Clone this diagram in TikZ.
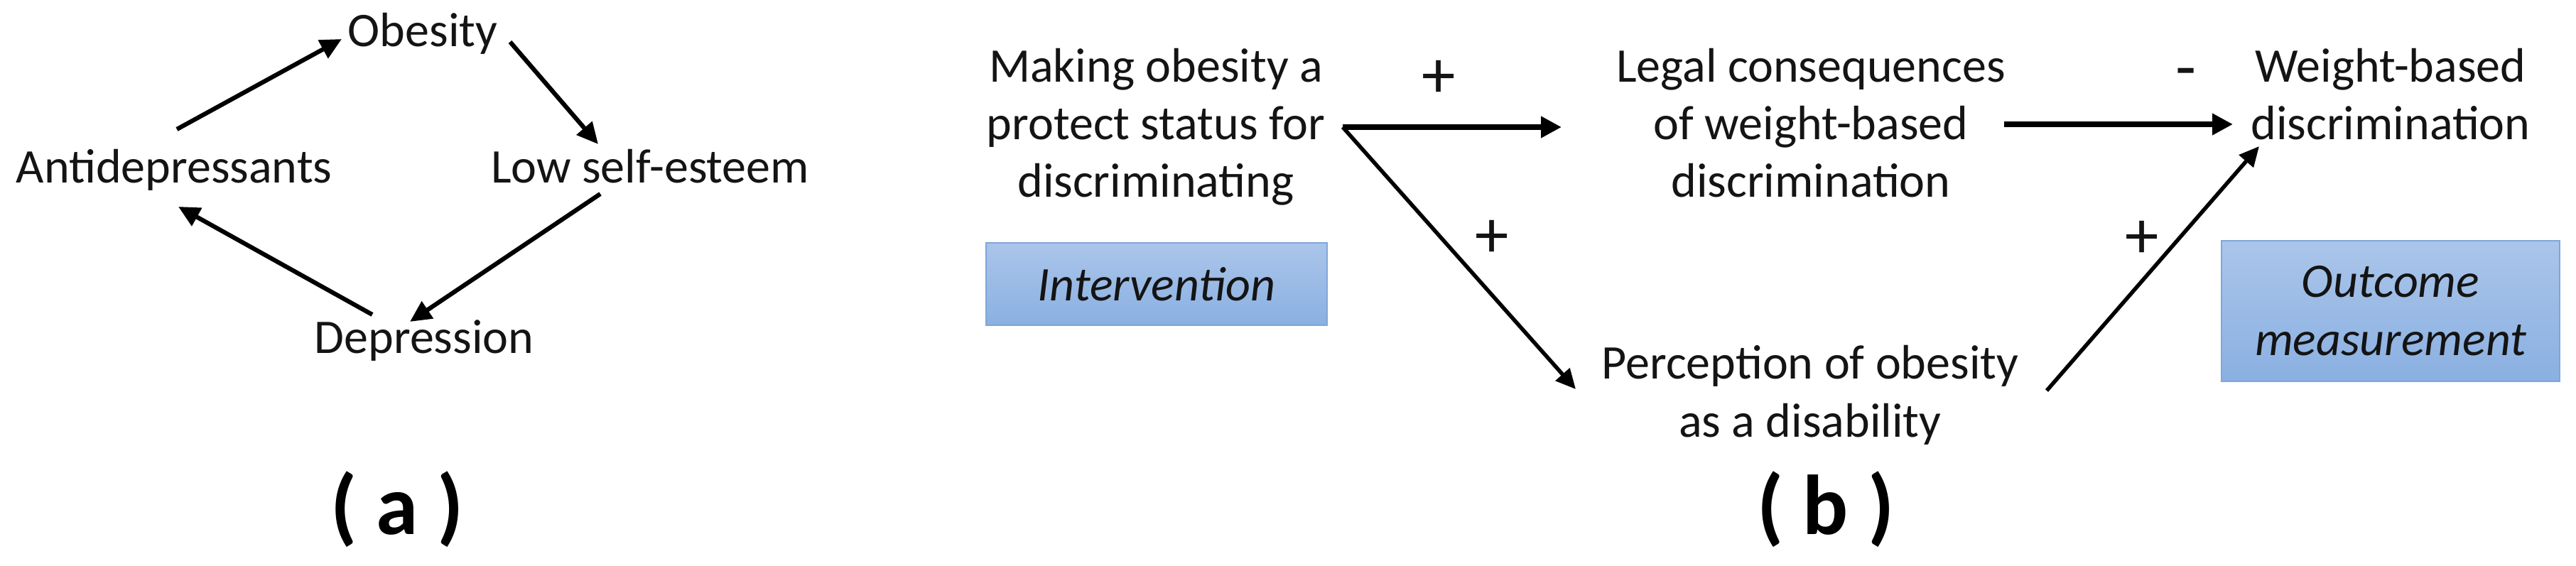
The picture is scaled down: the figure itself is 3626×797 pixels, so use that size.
\documentclass[tikz,border=0pt]{standalone}
\usepackage{fontspec}
\setmainfont{Carlito}
\usetikzlibrary{arrows.meta}
\definecolor{boxtop}{RGB}{170,197,234}
\definecolor{boxbot}{RGB}{138,176,225}
\definecolor{boxline}{RGB}{128,166,216}
\definecolor{ink}{RGB}{20,20,20}
\begin{document}
\begin{tikzpicture}[x=0.01cm,y=-0.01cm,
  txt/.style={font=\fontsize{19.35}{23}\selectfont, text=ink, inner sep=0pt, anchor=base},
  sign/.style={font=\fontsize{27}{30}\selectfont, text=ink, inner sep=0pt, anchor=center},
  lbl/.style={font=\fontsize{34}{40}\selectfont\bfseries, inner sep=0pt, anchor=base},
  arrA/.style={line width=0.62mm, -{Triangle[length=3.0mm,width=2.8mm]}},
  arrH/.style={line width=0.72mm, -{Triangle[length=2.9mm,width=2.9mm]}},
  arrD/.style={line width=0.55mm, -{Triangle[length=2.8mm,width=2.6mm]}},
  bbox/.style={draw=boxline, line width=0.2mm, top color=boxtop, bottom color=boxbot,
    inner sep=0pt, align=center, text=ink, font=\fontsize{19.35}{23.3}\selectfont\itshape}]
\useasboundingbox (0,0) rectangle (3626,797);
% ---------- (a) ----------
\node[txt] (obe) at (595,65) {Obesity};
\node[txt] (ant) at (245,257) {Antidepressants};
\node[txt] (low) at (915,257) {Low self-esteem};
\node[txt] (dep) at (597,497) {Depression};
\coordinate (antout) at (249,182);
\coordinate (obein)  at (481,55);
\coordinate (obeout) at (718,59);
\coordinate (lowin)  at (842,203);
\coordinate (lowout) at (845,273);
\coordinate (depin)  at (577,453);
\coordinate (depout) at (524,443);
\coordinate (antin)  at (251,291);
\draw[arrA] (antout) -- (obein);
\draw[arrA] (obeout) -- (lowin);
\draw[arrA] (lowout) -- (depin);
\draw[arrA] (depout) -- (antin);
\node[lbl] (la) at (559,752) {( a )};
% ---------- (b) ----------
\node[txt] (mk1) at (1627,115) {Making obesity a};
\node[txt] (mk2) at (1627,196) {protect status for};
\node[txt] (mk3) at (1627,277) {discriminating};
\node[txt] (lg1) at (2549,115) {Legal consequences};
\node[txt] (lg2) at (2549,196) {of weight-based};
\node[txt] (lg3) at (2549,277) {discrimination};
\node[txt] (wb1) at (3365,115) {Weight-based};
\node[txt] (wb2) at (3365,196) {discrimination};
\node[txt] (pc1) at (2548,533) {Perception of obesity};
\node[txt] (pc2) at (2548,615) {as a disability};
\node[bbox, minimum width=4.80cm, minimum height=1.16cm] (iv) at (1628,400) {Intervention};
\node[bbox, minimum width=4.75cm, minimum height=1.97cm] (om) at (3365,438) {Outcome\\measurement};
\coordinate (mkout) at (1890,179);
\coordinate (lgin)  at (2198,179);
\coordinate (pcin)  at (2218,548);
\coordinate (lgout) at (2821,175);
\coordinate (wbin)  at (3143,175);
\coordinate (pcout) at (2881,550);
\coordinate (wbin2) at (3180,206);
\draw[arrH] (mkout) -- (lgin);
\draw[arrD] (mkout) -- (pcin);
\draw[arrH] (lgout) -- (wbin);
\draw[arrD] (pcout) -- (wbin2);
\node[sign] (s1) at (2025,111) {+};
\node[sign] (s2) at (2100,336) {+};
\node[sign] (s3) at (3015,337) {+};
\node[sign] (s4) at (3077,111) {-};
\node[lbl] (lb) at (2570,752) {( b )};
\end{tikzpicture}
\end{document}
